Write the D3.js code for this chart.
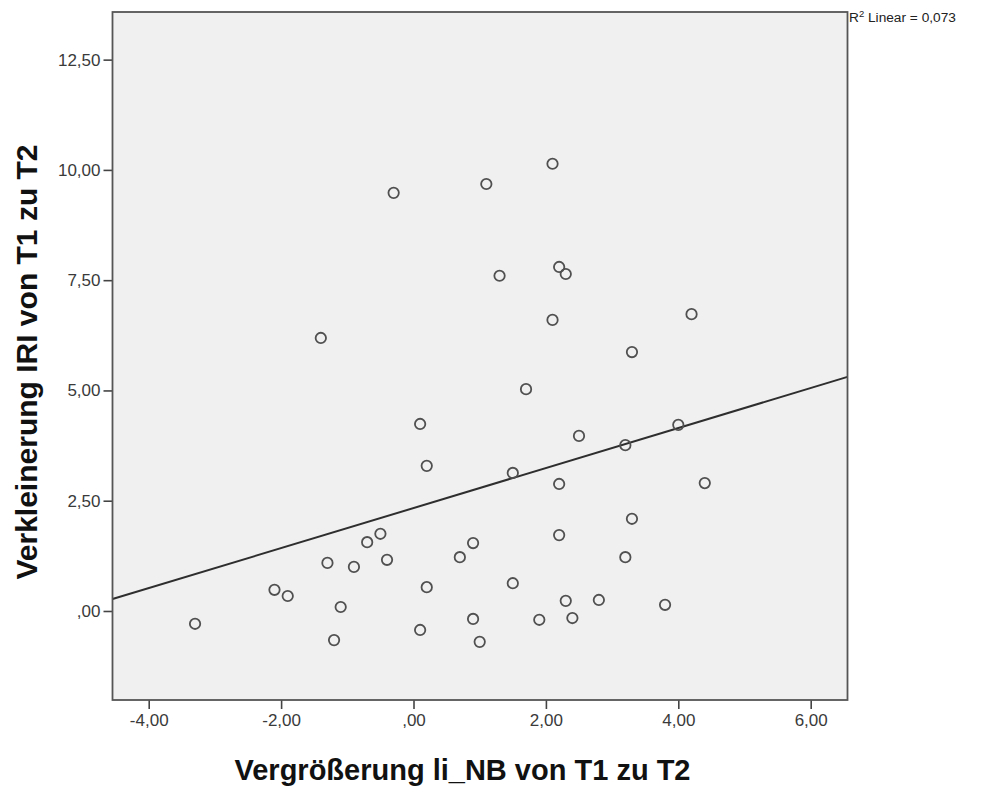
<!DOCTYPE html>
<html>
<head>
<meta charset="utf-8">
<script src="https://cdn.jsdelivr.net/npm/d3@7"></script>
<style>
  html, body { margin: 0; padding: 0; background: #ffffff; }
  svg { display: block; font-family: Arial, "Liberation Sans", sans-serif; }
</style>
</head>
<body>
<svg id="chart" width="986" height="789"></svg>
<script>
// Vergrößerung li_NB (x) vs. Verkleinerung IRI (y), one entry per case
const xValues = [
  -3.3, -2.1, -1.9, -1.4, -1.3, -1.1, -1.2, -0.9, -0.7, -0.5, -0.4, -0.3,
   0.1,  0.2,  0.2,  0.1,  0.7,  0.9,  0.9,  1.0,  1.1,  1.3,  1.5,  1.5,
   1.7,  1.9,  2.1,  2.1,  2.2,  2.3,  2.2,  2.2,  2.3,  2.4,  2.5,  2.8,
   3.2,  3.2,  3.3,  3.3,  3.8,  4.0,  4.2,  4.4
];
const yValues = [
  -0.29, 0.48, 0.34, 6.19, 1.09, 0.09, -0.66, 1.00, 1.56, 1.75, 1.16, 9.48,
   4.24, 3.29, 0.54, -0.43, 1.22, 1.54, -0.18, -0.70, 9.68, 7.60, 3.13, 0.63,
   5.03, -0.20, 10.14, 6.60, 7.80, 7.64, 2.88, 1.72, 0.23, -0.16, 3.97, 0.25,
   3.76, 1.22, 5.87, 2.09, 0.14, 4.22, 6.73, 2.90
];
const xTicks = [-4, -2, 0, 2, 4, 6];
const yTicks = [0, 2.5, 5, 7.5, 10, 12.5];
const xTitle = "Vergrößerung li_NB von T1 zu T2";
const yTitle = "Verkleinerung IRI von T1 zu T2";
const fitLabel = "Linear = 0,073";

const svg = d3.select("#chart");
const plot = { left: 112.5, right: 847.5, top: 12, bottom: 700 };

const x = d3.scaleLinear().domain([-4.547, 6.556]).range([plot.left, plot.right]);
const y = d3.scaleLinear().domain([-2.018, 13.58]).range([plot.bottom, plot.top]);

// German-style decimals, leading zero dropped (",00")
const fmt = v => {
  let s = Math.abs(v).toFixed(2).replace(".", ",");
  if (s.startsWith("0,")) s = s.slice(1);
  return (v < 0 ? "-" : "") + s;
};

// plot background
svg.append("rect")
  .attr("x", plot.left).attr("y", plot.top)
  .attr("width", plot.right - plot.left).attr("height", plot.bottom - plot.top)
  .attr("fill", "#f0f0f0");

// axes
const xAxis = svg.append("g")
  .attr("transform", `translate(0,${plot.bottom})`)
  .call(d3.axisBottom(x).tickValues(xTicks).tickFormat(fmt).tickSize(9).tickPadding(5));
const yAxis = svg.append("g")
  .attr("transform", `translate(${plot.left},0)`)
  .call(d3.axisLeft(y).tickValues(yTicks).tickFormat(fmt).tickSize(9).tickPadding(3));
[xAxis, yAxis].forEach(g => {
  g.select(".domain").remove();
  g.selectAll(".tick line").attr("stroke", "#444").attr("stroke-width", 1.6);
  g.selectAll(".tick text").attr("fill", "#3a3a3a").style("font-size", "17px");
});

// regression line (least squares from the data)
const n = xValues.length;
const mx = d3.mean(xValues), my = d3.mean(yValues);
let sxy = 0, sxx = 0;
for (let i = 0; i < n; i++) {
  sxy += (xValues[i] - mx) * (yValues[i] - my);
  sxx += (xValues[i] - mx) ** 2;
}
const slope = sxy / sxx, intercept = my - slope * mx;
const [x0, x1] = x.domain();

svg.append("clipPath").attr("id", "plotclip")
  .append("rect")
  .attr("x", plot.left).attr("y", plot.top)
  .attr("width", plot.right - plot.left).attr("height", plot.bottom - plot.top);

svg.append("line")
  .attr("clip-path", "url(#plotclip)")
  .attr("x1", x(x0)).attr("y1", y(intercept + slope * x0))
  .attr("x2", x(x1)).attr("y2", y(intercept + slope * x1))
  .attr("stroke", "#2e2e2e").attr("stroke-width", 2);

// points
svg.append("g").selectAll("circle")
  .data(xValues.map((v, i) => [v, yValues[i]]))
  .join("circle")
  .attr("cx", d => x(d[0])).attr("cy", d => y(d[1]))
  .attr("r", 5.2)
  .attr("fill", "none")
  .attr("stroke", "#505050").attr("stroke-width", 1.8);

// frame
svg.append("rect")
  .attr("x", plot.left).attr("y", plot.top)
  .attr("width", plot.right - plot.left).attr("height", plot.bottom - plot.top)
  .attr("fill", "none").attr("stroke", "#555").attr("stroke-width", 1.8);

// fit statistic
const fit = svg.append("text")
  .attr("x", plot.right + 1.5).attr("y", 22)
  .attr("fill", "#222").style("font-size", "13.7px");
fit.append("tspan").text("R");
fit.append("tspan").attr("dy", -5).style("font-size", "9.5px").text("2");
fit.append("tspan").attr("dy", 5).text(" " + fitLabel);

// axis titles
svg.append("text")
  .attr("x", 462.5).attr("y", 780)
  .attr("text-anchor", "middle")
  .attr("fill", "#111").style("font-size", "29px").style("font-weight", "bold")
  .text(xTitle);
svg.append("text")
  .attr("transform", "translate(37,362) rotate(-90)")
  .attr("text-anchor", "middle")
  .attr("fill", "#111").style("font-size", "30px").style("font-weight", "bold")
  .text(yTitle);
</script>
</body>
</html>
